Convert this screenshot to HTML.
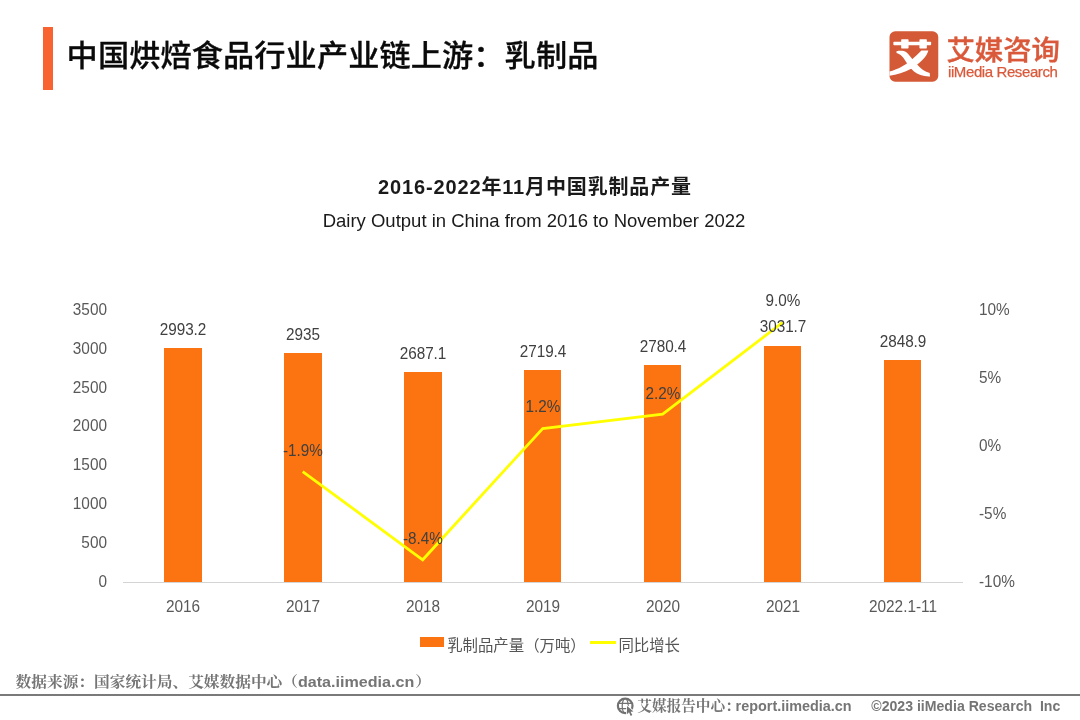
<!DOCTYPE html>
<html lang="zh-CN">
<head>
<meta charset="utf-8">
<title>中国烘焙食品行业产业链上游：乳制品</title>
<style>
  html, body { margin: 0; padding: 0; }
  body {
    width: 1080px; height: 720px; overflow: hidden; background: #ffffff;
    font-family: "Liberation Sans", "Noto Sans CJK SC", sans-serif;
    color: #222;
    position: relative;
  }
  .abs { position: absolute; white-space: nowrap; line-height: 1; }
  .accent { left: 43px; top: 26.7px; width: 9.5px; height: 63.6px; background: #f96332; }
  .title { left: 66.6px; top: 40.8px; font-size: 31.2px; font-weight: 500; color: #0a0a0a; letter-spacing: 0.1px; -webkit-text-stroke: 0.3px #0a0a0a; transform: scaleY(0.94); transform-origin: 50% 50%; }
  .logo-cn { left: 946.4px; top: 36.2px; font-size: 28.4px; font-weight: 500; color: #d9593a; -webkit-text-stroke: 0.4px #d9593a; transform: scaleY(0.96); }
  .logo-en { left: 948px; top: 64.3px; font-size: 15px; letter-spacing: -0.4px; color: #d9593a; -webkit-text-stroke: 0.25px #d9593a; }
  .ctitle { left: 0; width: 1070px; text-align: center; top: 177.3px; font-size: 20px; letter-spacing: 0.85px; font-weight: 700; color: #1a1a1a; }
  .csub { left: 0; width: 1068px; text-align: center; top: 211.5px; font-size: 18.5px; color: #1a1a1a; }
  .yl { width: 60px; left: 46.6px; text-align: right; font-size: 16px; color: #595959; transform: scaleX(0.96); transform-origin: 100% 50%; }
  .yr { left: 979px; font-size: 16px; color: #595959; transform: scaleX(0.96); transform-origin: 0 50%; }
  .bar { background: #fb7411; width: 37.8px; }
  .bl { width: 120px; text-align: center; font-size: 16px; color: #404040; transform: scaleX(0.955); }
  .xl { width: 120px; text-align: center; font-size: 16px; color: #595959; top: 598.5px; transform: scaleX(0.96); }
  .axis { left: 123px; top: 581.8px; width: 840px; height: 1.2px; background: #d4d4d4; }
  .leg { font-size: 15.4px; font-weight: 400; color: #555; top: 638.2px; }
  .src { font-family: "Liberation Sans", "Noto Serif CJK SC", serif; left: 15.6px; top: 673.3px; font-size: 15.7px; font-weight: 700; color: #757575; transform: scaleY(0.94); }
  .rule { left: 0; top: 694.1px; width: 1080px; height: 1.7px; background: #7a7a7a; }
  .foot { font-family: "Liberation Sans", "Noto Serif CJK SC", serif; top: 698.7px; font-size: 14.65px; font-weight: 700; color: #757575; }
  .foot span { font-size: 14.5px; }
</style>
</head>
<body>
  <div class="abs accent"></div>
  <div class="abs title">中国烘焙食品行业产业链上游：乳制品</div>

  <svg class="abs" style="left:886px;top:28px" width="56" height="56" viewBox="0 0 720 720" role="img" aria-label="iiMedia logo mark">
    <rect x="45" y="42" width="627" height="648" rx="74" fill="#d45a37"/>
    <g fill="#ffffff">
      <rect x="95" y="178" width="485" height="44" rx="10"/>
      <rect x="195" y="145" width="95" height="117" rx="8"/>
      <rect x="430" y="145" width="95" height="117" rx="8"/>
      <path d="M455 290L545 290C525 370 440 450 330 520C230 575 140 600 45 615L45 560C150 530 240 480 300 430C360 385 410 340 455 290Z"/>
      <path d="M135 298C180 290 230 290 262 312C300 345 340 410 400 470C450 525 500 565 562 580L566 622C480 625 410 600 360 560C300 505 260 440 225 385C200 350 170 330 135 320Z"/>
    </g>
  </svg>
  <div class="abs logo-cn">艾媒咨询</div>
  <div class="abs logo-en">iiMedia Research</div>

  <div class="abs ctitle">2016-2022年11月中国乳制品产量</div>
  <div class="abs csub">Dairy Output in China from 2016 to November 2022</div>

  <!-- left axis -->
  <div class="abs yl" style="top:301.7px">3500</div>
  <div class="abs yl" style="top:340.6px">3000</div>
  <div class="abs yl" style="top:379.5px">2500</div>
  <div class="abs yl" style="top:418.4px">2000</div>
  <div class="abs yl" style="top:457.3px">1500</div>
  <div class="abs yl" style="top:496.2px">1000</div>
  <div class="abs yl" style="top:535.1px">500</div>
  <div class="abs yl" style="top:574.0px">0</div>

  <!-- right axis -->
  <div class="abs yr" style="top:301.9px">10%</div>
  <div class="abs yr" style="top:369.9px">5%</div>
  <div class="abs yr" style="top:438.0px">0%</div>
  <div class="abs yr" style="top:506.0px">-5%</div>
  <div class="abs yr" style="top:574.1px">-10%</div>

  <!-- bars -->
  <div class="abs bar" style="left:163.9px;top:348.4px;height:233.6px"></div>
  <div class="abs bar" style="left:283.9px;top:353.2px;height:228.8px"></div>
  <div class="abs bar" style="left:403.9px;top:372.4px;height:209.6px"></div>
  <div class="abs bar" style="width:37.1px;left:523.9px;top:369.5px;height:212.5px"></div>
  <div class="abs bar" style="width:37.1px;left:643.9px;top:364.7px;height:217.3px"></div>
  <div class="abs bar" style="width:37.1px;left:763.9px;top:345.8px;height:236.2px"></div>
  <div class="abs bar" style="width:37.1px;left:883.9px;top:360.0px;height:222.0px"></div>
  <div class="abs axis"></div>

  <!-- line -->
  <svg class="abs" style="left:0;top:0" width="1080" height="720" viewBox="0 0 1080 720">
    <polyline points="302.7,471.6 422.7,559.8 542.7,428.5 662.7,414.2 782.7,322.4" fill="none" stroke="#ffff00" stroke-width="2.8" stroke-linejoin="miter" stroke-linecap="butt"/>
  </svg>

  <!-- bar labels -->
  <div class="abs bl" style="left:122.9px;top:322.1px">2993.2</div>
  <div class="abs bl" style="left:242.9px;top:327.1px">2935</div>
  <div class="abs bl" style="left:362.9px;top:346px">2687.1</div>
  <div class="abs bl" style="left:482.9px;top:343.7px">2719.4</div>
  <div class="abs bl" style="left:602.9px;top:338.9px">2780.4</div>
  <div class="abs bl" style="left:722.9px;top:318.9px">3031.7</div>
  <div class="abs bl" style="left:842.9px;top:334.0px">2848.9</div>

  <!-- line labels -->
  <div class="abs bl" style="left:242.9px;top:443px">-1.9%</div>
  <div class="abs bl" style="left:362.9px;top:531.1px">-8.4%</div>
  <div class="abs bl" style="left:482.9px;top:399px">1.2%</div>
  <div class="abs bl" style="left:602.9px;top:385.9px">2.2%</div>
  <div class="abs bl" style="left:722.9px;top:292.5px">9.0%</div>

  <!-- x labels -->
  <div class="abs xl" style="left:122.9px">2016</div>
  <div class="abs xl" style="left:242.9px">2017</div>
  <div class="abs xl" style="left:362.9px">2018</div>
  <div class="abs xl" style="left:482.9px">2019</div>
  <div class="abs xl" style="left:602.9px">2020</div>
  <div class="abs xl" style="left:722.9px">2021</div>
  <div class="abs xl" style="left:842.9px">2022.1-11</div>

  <!-- legend -->
  <div class="abs" style="left:420.2px;top:637.1px;width:24.2px;height:10.2px;background:#fb7411"></div>
  <div class="abs leg" style="left:447.2px">乳制品产量（万吨）</div>
  <div class="abs" style="left:590.4px;top:641px;width:25.8px;height:3px;background:#ffff00"></div>
  <div class="abs leg" style="left:618.4px">同比增长</div>

  <div class="abs src">数据来源：国家统计局、艾媒数据中心（<span style="font-size:16.1px;margin:0 1px 0 0">data.iimedia.cn</span>）</div>
  <div class="abs rule"></div>

  <svg class="abs" style="left:614px;top:695px" width="22" height="22" viewBox="0 0 22 22">
    <g fill="none" stroke="#727272">
      <circle cx="11.2" cy="10.9" r="7.3" stroke-width="2.2"/>
      <ellipse cx="11.2" cy="10.9" rx="3" ry="7.4" stroke-width="1.2"/>
      <path d="M4.6 8.4h13.2M4.6 13.6h13.2" stroke-width="1.2"/>
    </g>
    <path d="M13 10.9L13 19.3L15 17.3L16.7 20.9L18.3 20.1L16.6 16.7L19.5 16.4Z" fill="#727272" stroke="#ffffff" stroke-width="1.6" paint-order="stroke" stroke-linejoin="round"/>
  </svg>
  <div class="abs foot" style="left:637.3px">艾媒报告中心：<span style="margin-left:-4.2px;font-size:14.4px">report.iimedia.cn</span></div>
  <div class="abs foot" style="left:871.3px"><span style="font-size:14.1px">©2023 iiMedia Research&nbsp; Inc</span></div>
</body>
</html>
